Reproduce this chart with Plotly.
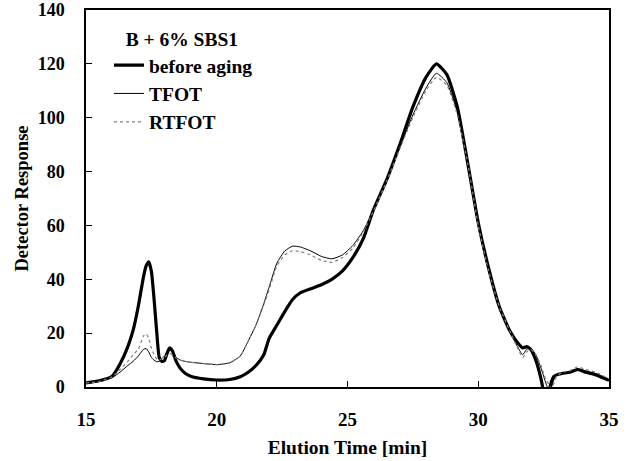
import plotly.graph_objects as go

time_min = [15, 15.5, 16, 16.3, 16.6, 16.8, 17.0, 17.2, 17.3, 17.4, 17.5, 17.6, 17.7, 17.8, 17.9,
            18.0, 18.1, 18.2, 18.3, 18.45, 18.6, 18.8, 19.0, 19.5, 20, 20.5, 20.9, 21.2, 21.5, 21.8,
            22.0, 22.3, 22.6, 22.9, 23.2, 23.6, 24.0, 24.4, 24.8, 25.2, 25.6, 26.0, 26.5, 27.0,
            27.5, 28.0, 28.4, 28.8, 29.2, 29.6, 30.0, 30.4, 30.8, 31.2, 31.5, 31.7, 31.85, 32.0,
            32.2, 32.4, 32.5, 32.6, 32.7, 32.8, 32.9, 33.0, 33.2, 33.5, 33.8, 34.1, 34.5, 35.0]

before_aging = [1.5, 2.3, 4.0, 8.5, 15, 21, 30, 41, 45, 46.5, 43, 33, 21, 11, 9.5,
                9.8, 12.5, 14.5, 13.5, 9.5, 7, 5, 4, 3, 2.6, 2.8, 3.8, 5.5, 8, 12,
                18, 23, 28, 32.5, 35, 36.5, 38, 40, 43, 48, 55, 66, 77, 90,
                104, 115, 120, 116, 104, 83, 61, 44, 30, 21, 16.5, 14.5, 15, 14,
                10, 3, -2, -6, -2, 2, 4, 4.5, 5, 5.5, 6.5, 5.5, 4.5, 2.5]

tfot = [1.5, 2, 3.5, 5.5, 8, 9.5, 11.5, 14, 14.3, 13, 11, 10, 9.4, 9.5, 10.5,
        11.5, 13, 13.8, 13, 11, 10, 9.5, 9.2, 8.7, 8.3, 9, 11.5, 17, 23, 31,
        37, 46, 50.5, 52.3, 52, 50.5, 48.5, 47.6, 49, 52.5, 58, 66, 77, 89,
        101, 111, 116.5, 113, 102, 83, 60, 43, 30, 21, 15, 12, 14, 14.5,
        12, 7, 4, 1, -1, 0, 3, 4.5, 5, 5.5, 6.8, 6, 5, 2.5]

rtfot = [1.5, 2, 3.8, 6.5, 9.5, 12, 14, 19, 19.8, 18, 14.5, 12, 10.5, 10, 10.5,
         11, 12, 12.5, 12, 10.8, 10, 9.5, 9.2, 8.7, 8.3, 9, 11.5, 17, 23, 30.5,
         36, 45, 49, 50.6, 50.3, 49, 47, 46.3, 48, 51.5, 57.5, 65.5, 76.5, 88.5,
         100, 110, 115, 112, 101, 83, 60, 43, 30, 21, 14.5, 11, 13, 14,
         12, 8, 5, 2.5, 1, -0.5, 1.5, 4, 5.5, 6, 7.5, 6.5, 5.5, 3]

legend_title = "B + 6% SBS1"
series_names = ["before aging", "TFOT", "RTFOT"]

FONT = "Liberation Serif, Times New Roman, serif"

fig = go.Figure()
fig.add_trace(go.Scatter(x=time_min, y=before_aging, mode="lines", name=series_names[0],
                         line=dict(color="black", width=3.2, shape="spline", smoothing=0.5)))
fig.add_trace(go.Scatter(x=time_min, y=tfot, mode="lines", name=series_names[1],
                         line=dict(color="black", width=1, shape="spline", smoothing=0.5)))
fig.add_trace(go.Scatter(x=time_min, y=rtfot, mode="lines", name=series_names[2],
                         line=dict(color="#808080", width=1.2, dash="dot", shape="spline", smoothing=0.5)))

fig.update_layout(
    width=628, height=461,
    margin=dict(l=86, r=19, t=10, b=74, autoexpand=False),
    paper_bgcolor="white", plot_bgcolor="white",
    font=dict(family=FONT, size=18, color="black", weight="bold"),
    showlegend=True,
    legend=dict(
        x=(109 - 86) / 523, y=0.972, xanchor="left", yanchor="top",
        bgcolor="rgba(0,0,0,0)",
        title=dict(text="\u00a0\u00a0\u00a0" + legend_title,
                   font=dict(family=FONT, size=19.5, color="black", weight="bold")),
        font=dict(family=FONT, size=19.5, color="black", weight="bold"),
        itemwidth=30, tracegroupgap=0,
    ),
)

fig.update_xaxes(
    range=[15, 35], tickvals=[15, 20, 25, 30, 35],
    showgrid=False, zeroline=False, automargin=False,
    showline=True, linecolor="black", linewidth=1.5, mirror=True,
    ticks="inside", ticklen=6, tickcolor="black",
    ticklabelstandoff=14,
    tickfont=dict(family=FONT, size=19, color="black", weight="bold"),
    title=dict(text="Elution Time [min]", standoff=12,
               font=dict(family=FONT, size=19.5, color="black", weight="bold")),
)
fig.update_yaxes(
    range=[0, 140], tickvals=[0, 20, 40, 60, 80, 100, 120, 140],
    showgrid=False, zeroline=False, automargin=False,
    showline=True, linecolor="black", linewidth=1.5, mirror=True,
    ticks="inside", ticklen=6, tickcolor="black",
    ticklabelstandoff=16,
    tickfont=dict(family=FONT, size=18, color="black", weight="bold"),
    title=dict(text="Detector Response", standoff=4,
               font=dict(family=FONT, size=18.5, color="black", weight="bold")),
)

fig.write_html("out.html")
